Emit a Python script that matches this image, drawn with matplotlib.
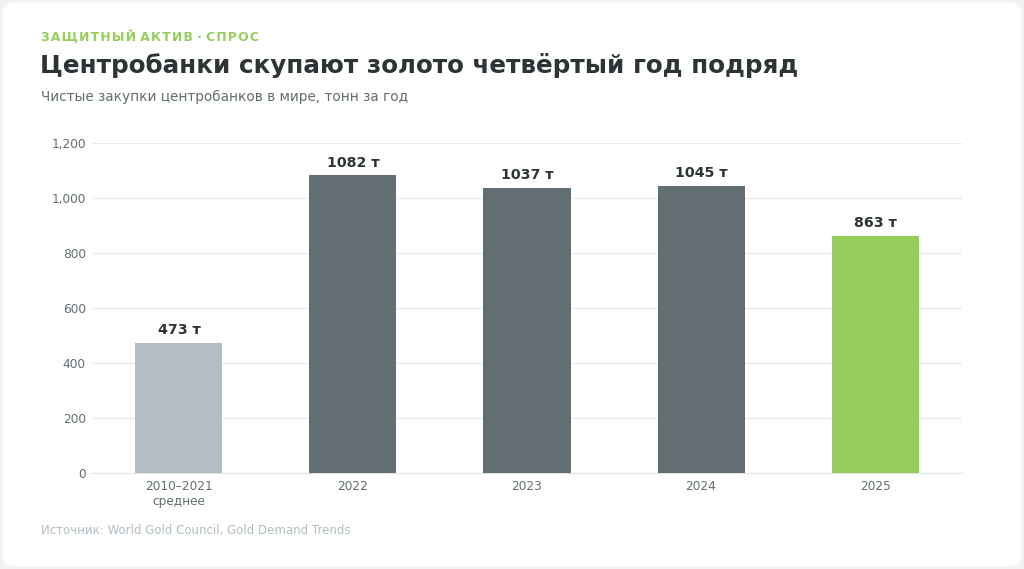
import matplotlib
matplotlib.use("Agg")
import matplotlib.pyplot as plt
from matplotlib.patches import FancyBboxPatch
from matplotlib.ticker import FuncFormatter

# Data
categories = ["2010–2021\nсреднее", "2022", "2023", "2024", "2025"]
tonnes = [473, 1082, 1037, 1045, 863]
bar_colors = ["#b2bec3", "#636e72", "#636e72", "#636e72", "#96ce5b"]

plt.rcParams["font.family"] = ["DejaVu Sans"]


def spaced(s):
    # fake letter spacing for the kicker line
    return " ".join("\u200a".join(w) for w in s.split(" "))


fig = plt.figure(figsize=(10.24, 5.69), dpi=100)
fig.patch.set_facecolor("#f1f2f3")

# white card
card = FancyBboxPatch((0.003, 0.004), 0.994, 0.992,
                      boxstyle="round,pad=0,rounding_size=0.016",
                      transform=fig.transFigure, facecolor="white",
                      edgecolor="none", zorder=-10)
fig.patches.append(card)

ax = fig.add_axes([0.0898, 0.1687, 0.8497, 0.58])
ax.set_facecolor("none")

x = range(len(categories))
bars = ax.bar(x, tonnes, width=0.5, color=bar_colors, zorder=3)

for b, v in zip(bars, tonnes):
    ax.text(b.get_x() + b.get_width() / 2, v + 20, f"{v} т",
            ha="center", va="bottom", fontsize=10.2, fontweight="bold",
            color="#2d3436", zorder=4)

ax.set_xlim(-0.5, len(categories) - 0.5)
ax.set_ylim(0, 1200)
ax.set_yticks(range(0, 1201, 200))
ax.yaxis.set_major_formatter(FuncFormatter(lambda v, p: f"{int(v):,}"))
ax.set_xticks(list(x))
ax.set_xticklabels(categories)
ax.tick_params(axis="both", length=0, labelsize=8.7, colors="#636e72")
ax.tick_params(axis="y", pad=4.5)
ax.tick_params(axis="x", pad=5)

ax.grid(axis="y", color="#e8ecee", linewidth=1, zorder=0)
for s in ["top", "right", "left"]:
    ax.spines[s].set_visible(False)
ax.spines["bottom"].set_color("#dfe6e9")

fig.text(0.04, 0.935, spaced("ЗАЩИТНЫЙ АКТИВ · СПРОС"),
         fontsize=8.8, fontweight="bold",
         color="#96ce5b", ha="left", va="center")
fig.text(0.039, 0.885, "Центробанки скупают золото четвёртый год подряд",
         fontsize=17.7, fontweight="bold", color="#2d3436", ha="left", va="center")
fig.text(0.04, 0.83, "Чистые закупки центробанков в мире, тонн за год",
         fontsize=9.85, color="#636e72", ha="left", va="center")
fig.text(0.04, 0.068, "Источник: World Gold Council, Gold Demand Trends",
         fontsize=8.5, color="#b2bec3", ha="left", va="center")

fig.savefig("out.png", dpi=100, facecolor=fig.get_facecolor())
